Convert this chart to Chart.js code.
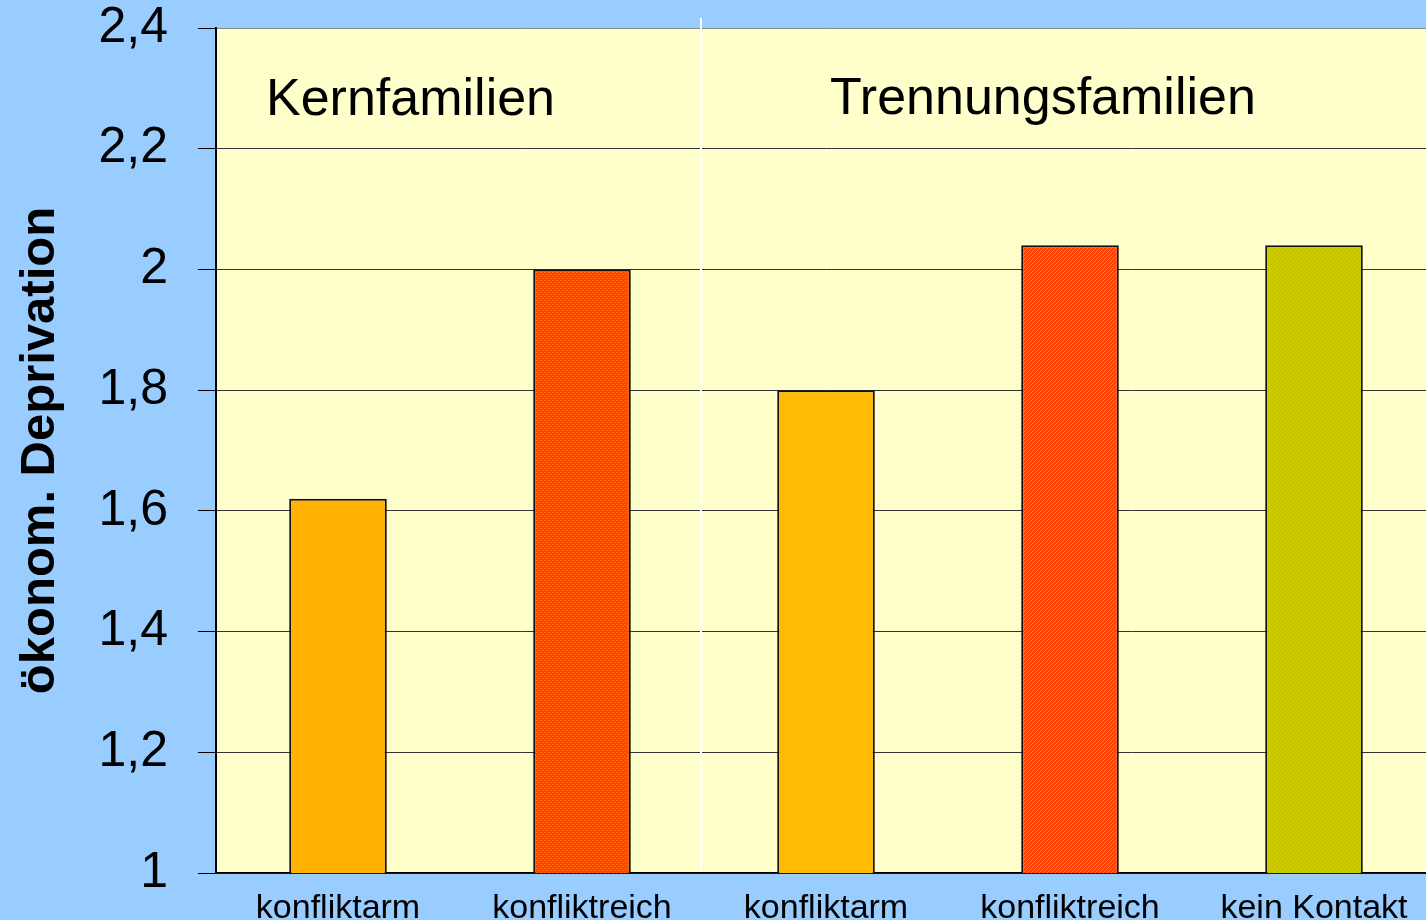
<!DOCTYPE html>
<html><head><meta charset="utf-8">
<script src="https://cdn.jsdelivr.net/npm/chart.js@4/dist/chart.umd.min.js"></script>
<style>
html,body{margin:0;padding:0;background:#99CCFF;overflow:hidden;width:1426px;height:920px}
#wrap{position:absolute;left:0;top:0;width:1436px;height:920px}
</style></head><body>
<div id="wrap"><canvas id="c" width="1436" height="920"></canvas></div>
<script>
// ---- data ----
const categories = ['konfliktarm', 'konfliktreich', 'konfliktarm', 'konfliktreich', 'kein Kontakt'];
const values = [1.62, 2.0, 1.8, 2.04, 2.04];
const groupTitles = ['Kernfamilien', 'Trennungsfamilien'];
const yMin = 1, yMax = 2.4, yStep = 0.2;
const yTickLabels = ['1', '1,2', '1,4', '1,6', '1,8', '2', '2,2', '2,4'];

// ---- styles ----
const FONT = '"Liberation Sans", Arial, sans-serif';
function makePattern(base, accent, kind) {
  const s = 4;
  const c = document.createElement('canvas'); c.width = s; c.height = s;
  const g = c.getContext('2d');
  g.fillStyle = base; g.fillRect(0, 0, s, s);
  g.fillStyle = accent;
  if (kind === 'diag') {
    for (let i = 0; i < s; i++) g.fillRect((s - 1 - i), i, 1, 1);
  } else if (kind === 'dots') {
    g.fillRect(0, 0, 1, 1); g.fillRect(2, 2, 1, 1);
  } else {
    g.fillRect(0, 0, 2, 1); g.fillRect(2, 2, 2, 1);
  }
  return document.getElementById('c').getContext('2d').createPattern(c, 'repeat');
}
const barFills = [
  makePattern('#FFB400', '#FFA800', 'dots'),
  makePattern('#FF4400', '#FF6A00', 'grid'),
  makePattern('#FFB800', '#FFC800', 'diag'),
  makePattern('#FF4000', '#FF8C00', 'diag'),
  makePattern('#CCCC00', '#A8C800', 'diag')
];

const bgPlugin = {
  id: 'plotBg',
  beforeDraw(chart) {
    const {ctx, chartArea: a} = chart;
    ctx.save();
    ctx.fillStyle = '#FFFFCC';
    ctx.fillRect(a.left, a.top, a.right - a.left, a.bottom - a.top);
    ctx.restore();
  },
  afterDraw(chart) {
    const {ctx, chartArea: a, scales: {x}} = chart;
    const sepX = (x.getPixelForValue(1) + x.getPixelForValue(2)) / 2 - 3;
    ctx.save();
    ctx.strokeStyle = '#FFFFFF';
    ctx.lineWidth = 2;
    ctx.beginPath();
    ctx.moveTo(sepX, a.top - 10);
    ctx.lineTo(sepX, a.bottom - 3);
    ctx.stroke();
    ctx.fillStyle = '#000';
    ctx.font = '52px ' + FONT;
    ctx.textBaseline = 'alphabetic';
    ctx.textAlign = 'left';
    ctx.fillText(groupTitles[0], a.left + 50, a.top + 87);
    ctx.fillText(groupTitles[1], sepX + 129, a.top + 86);
    ctx.restore();
  }
};

new Chart(document.getElementById('c'), {
  type: 'bar',
  data: {
    labels: categories,
    datasets: [{
      data: values,
      backgroundColor: barFills,
      borderColor: '#111',
      borderWidth: 2,
      barPercentage: 0.4,
      categoryPercentage: 1.0
    }]
  },
  options: {
    responsive: false,
    animation: false,
    devicePixelRatio: 1,
    layout: {padding: {top: 28, left: 0, right: 0, bottom: 0}},
    plugins: {legend: {display: false}, tooltip: {enabled: false}},
    scales: {
      x: {
        grid: {display: false, drawTicks: false},
        border: {display: true, color: '#000', width: 1.5},
        ticks: {color: '#000', font: {family: FONT, size: 34}, padding: 15, maxRotation: 0, autoSkip: false},
        afterFit(s) { s.height = 47; s.paddingLeft = 0; s.paddingRight = 0; }
      },
      y: {
        min: yMin, max: yMax,
        ticks: {
          stepSize: yStep,
          color: '#000',
          font: {family: FONT, size: 50, lineHeight: 1.1},
          padding: 30,
          callback: (v, i) => yTickLabels[i]
        },
        grid: {
          color: (ctx) => (ctx.index === yTickLabels.length - 1 ? '#888' : '#333'),
          tickColor: '#000',
          lineWidth: 1,
          tickLength: 18,
          drawTicks: true
        },
        border: {display: true, color: '#000', width: 2},
        title: {
          display: true,
          text: 'ökonom. Deprivation',
          color: '#000',
          font: {family: FONT, size: 49, weight: 'bold', lineHeight: 1.2},
          padding: {top: 11, bottom: 0}
        },
        afterFit(s) { s.width = 216; s.paddingTop = 0; s.paddingBottom = 0; }
      }
    }
  },
  plugins: [bgPlugin]
});
</script>
</body></html>
